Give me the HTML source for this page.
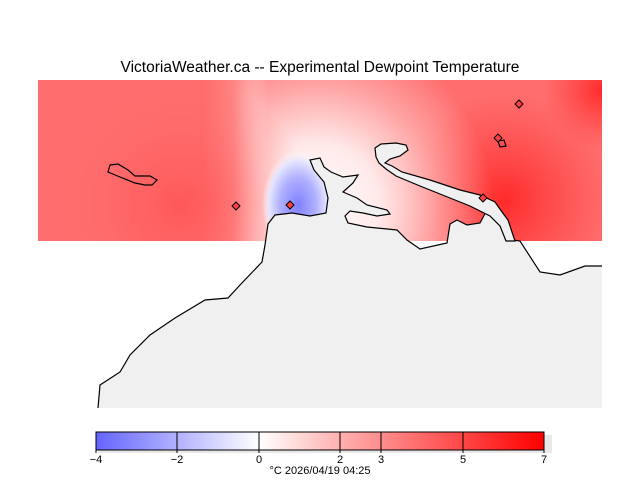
<!DOCTYPE html>
<html><head><meta charset="utf-8"><style>
html,body{margin:0;padding:0;background:#fff;}
svg{display:block;font-family:"Liberation Sans",sans-serif;}
</style></head><body>
<svg width="640" height="480" viewBox="0 0 640 480" xmlns="http://www.w3.org/2000/svg">
<defs>
<radialGradient id="wh" cx="318" cy="205" r="175" gradientUnits="userSpaceOnUse">
<stop offset="0" stop-color="#fff" stop-opacity="1"/><stop offset="0.35" stop-color="#fff" stop-opacity="0.85"/><stop offset="0.7" stop-color="#fff" stop-opacity="0.35"/><stop offset="1" stop-color="#fff" stop-opacity="0"/></radialGradient>
<linearGradient id="lr" x1="200" x2="268" y1="0" y2="0" gradientUnits="userSpaceOnUse">
<stop offset="0" stop-color="#ff6a6a" stop-opacity="1"/><stop offset="0.5" stop-color="#ff8080" stop-opacity="0.7"/><stop offset="1" stop-color="#ffffff" stop-opacity="0"/></linearGradient>
<radialGradient id="bl" cx="298" cy="205" r="1" gradientUnits="userSpaceOnUse" gradientTransform="translate(298 205) scale(36 55) translate(-298 -205)">
<stop offset="0" stop-color="#8080ff"/><stop offset="0.5" stop-color="#b0b0ff"/><stop offset="0.8" stop-color="#e4e4ff"/><stop offset="1" stop-color="#ffffff" stop-opacity="0"/></radialGradient>
<radialGradient id="rd" cx="505" cy="200" r="110" gradientUnits="userSpaceOnUse">
<stop offset="0" stop-color="#ff2a2a"/><stop offset="0.5" stop-color="#ff4444" stop-opacity="0.7"/><stop offset="1" stop-color="#ff5050" stop-opacity="0"/></radialGradient>
<radialGradient id="rc" cx="602" cy="90" r="60" gradientUnits="userSpaceOnUse">
<stop offset="0" stop-color="#ff2a2a"/><stop offset="1" stop-color="#ff4040" stop-opacity="0"/></radialGradient>
<radialGradient id="lf" cx="180" cy="205" r="130" gradientUnits="userSpaceOnUse">
<stop offset="0" stop-color="#ff5858"/><stop offset="1" stop-color="#ff6c6c" stop-opacity="0"/></radialGradient>
<linearGradient id="bar" x1="96" x2="544" gradientUnits="userSpaceOnUse">
<stop offset="0" stop-color="#6464ff"/><stop offset="0.364" stop-color="#fff"/><stop offset="0.545" stop-color="#ffb0b0"/><stop offset="1" stop-color="#ff0000"/></linearGradient>
<clipPath id="fc"><rect x="38" y="80" width="564" height="161"/></clipPath>
<clipPath id="rc2"><rect x="265" y="80" width="340" height="161"/></clipPath>
</defs>
<text x="320" y="72" text-anchor="middle" font-size="15.5" fill="#000">VictoriaWeather.ca -- Experimental Dewpoint Temperature</text>
<g clip-path="url(#fc)">
<rect x="38" y="80" width="564" height="161" fill="#ff6e6e"/>
<rect x="38" y="80" width="564" height="161" fill="url(#rd)"/>
<rect x="38" y="80" width="564" height="161" fill="url(#rc)"/>
<rect x="200" y="80" width="402" height="161" fill="url(#wh)"/>
<rect x="200" y="80" width="70" height="161" fill="url(#lr)"/>
<rect x="38" y="80" width="564" height="161" fill="url(#lf)"/>
<ellipse cx="298" cy="205" rx="36" ry="55" fill="url(#bl)"/>
</g>
<polygon fill="#f0f0f0" points="98,408 100,385 120,372 130,355 150,335 175,318 205,300 228,298 240,285 262,262 265,245 268,224 275,215 292,213 310,216 326,213 328,198 324,182 314,170 310,160 320,158 324,167 331,172 343,177 358,175 353,183 343,192 357,198 367,205 387,210 390,214 377,216 363,213 350,211 345,216 348,223 367,227 397,230 407,240 420,249 447,243 450,224 457,220 467,225 480,223 487,210 503,213 507,223 503,230 513,240 520,241 540,272 560,275 585,266 602,266 602,408"/>
<g fill="none" stroke="#000" stroke-width="1.2">
<polyline points="98,408 100,385 120,372 130,355 150,335 175,318 205,300 228,298 240,285 262,262 265,245 268,224 275,215 292,213 310,216 326,213 328,198 324,182 314,170 310,160 320,158 324,167 331,172 343,177 358,175 353,183 343,192 357,198 367,205 387,210 390,214 377,216 363,213 350,211 345,216 348,223 367,227 397,230 407,240 420,249 447,243 450,224 457,220 467,225 480,223 487,210 503,213 507,223 503,230 513,240 520,241 540,272 560,275 585,266 602,266"/>
</g>
<polygon fill="#f0f0f0" stroke="#000" stroke-width="1.2" points="375,148 381,144 396,143 406,145 408,150 400,156 390,159 385,163 392,166 402,172 430,180 460,190 480,195 495,202 502,212 508,220 512,232 515,241 506,241 500,226 490,216 470,206 445,196 420,186 396,176 386,169 379,163 376,157"/>
<path d="M110,165 L118,164 L128,170 L135,176 L150,176 L157,180 L152,185 L145,185 L135,183 L120,177 L108,172 Z" fill="none" stroke="#000" stroke-width="1.2"/>
<path d="M498,141 L504,140 L506,146 L500,147 Z" fill="none" stroke="#000" stroke-width="1.2"/>
<g fill="#ff4040" stroke="#000" stroke-width="1">
<polygon points="236,202 240,206 236,210 232,206"/>
<polygon points="290,201 294,205 290,209 286,205"/>
<polygon points="519,100 523,104 519,108 515,104"/>
<polygon points="498,134 502,138 498,142 494,138"/>
<polygon points="483,194 487,198 483,202 479,198"/>
</g>
<rect x="98" y="435" width="454" height="18" fill="#e8e8e8"/>
<rect x="96" y="432" width="448" height="18" fill="url(#bar)" stroke="#000" stroke-width="1"/>
<g stroke="#000" stroke-width="1">
<line x1="177" y1="432" x2="177" y2="453"/><line x1="259" y1="432" x2="259" y2="453"/>
<line x1="340" y1="432" x2="340" y2="453"/><line x1="381" y1="432" x2="381" y2="453"/>
<line x1="463" y1="432" x2="463" y2="453"/><line x1="96" y1="450" x2="96" y2="453"/><line x1="544" y1="450" x2="544" y2="453"/>
</g>
<g font-size="11" text-anchor="middle" fill="#000">
<text x="96" y="463">−4</text><text x="177" y="463">−2</text><text x="259" y="463">0</text>
<text x="340" y="463">2</text><text x="381" y="463">3</text><text x="463" y="463">5</text><text x="544" y="463">7</text>
<text x="320" y="474">°C  2026/04/19 04:25</text>
</g>
</svg>
</body></html>
